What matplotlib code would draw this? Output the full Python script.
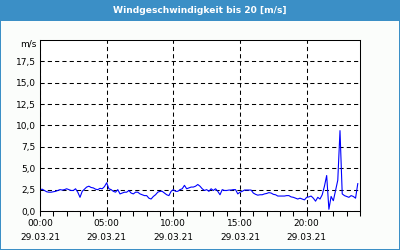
import matplotlib
matplotlib.use("Agg")
import matplotlib.pyplot as plt
from matplotlib.patches import Rectangle
import numpy as np

titel = "Windgeschwindigkeit bis 20 [m/s]"
datum = "29.03.21"
x_ticks_h = [0, 5, 10, 15, 20]
y_ticks = [0, 2.5, 5, 7.5, 10, 12.5, 15, 17.5]

# 10-Minuten-Werte in m/s, 00:00 .. 23:50
wind = [
    2.5, 2.55, 2.4, 2.25, 2.2, 2.2,      # 00
    2.25, 2.3, 2.4, 2.5, 2.45, 2.5,      # 01
    2.6, 2.5, 2.4, 2.4, 2.6, 2.2,        # 02
    1.6, 2.3, 2.55, 2.8, 2.9, 2.75,      # 03
    2.7, 2.55, 2.5, 2.65, 2.6, 2.85,     # 04
    3.3, 2.6, 2.5, 2.3, 2.2, 2.5,        # 05
    2.0, 2.1, 2.2, 2.2, 2.4, 2.1,        # 06
    2.0, 2.2, 2.2, 2.0, 1.9, 1.8,        # 07
    1.8, 1.5, 1.4, 1.7, 1.9, 2.2,        # 08
    2.3, 2.3, 2.1, 1.9, 1.8, 2.3,        # 09
    2.5, 2.3, 2.3, 2.5, 2.6, 3.0,        # 10
    2.6, 2.7, 2.8, 2.8, 2.9, 3.1,        # 11
    2.9, 2.6, 2.4, 2.5, 2.3, 2.6,        # 12
    2.4, 2.6, 2.3, 1.9, 2.5, 2.4,        # 13
    2.4, 2.45, 2.45, 2.5, 2.5, 2.0,      # 14
    2.2, 2.3, 2.45, 2.45, 2.45, 2.45,    # 15
    2.1, 1.95, 1.85, 1.9, 1.9, 2.0,      # 16
    2.05, 2.15, 2.1, 1.95, 1.9, 1.75,    # 17
    1.75, 1.75, 1.75, 1.8, 1.8, 1.65,    # 18
    1.6, 1.5, 1.4, 1.5, 1.4, 1.3,        # 19
    1.6, 1.65, 1.75, 1.5, 1.15, 1.6,     # 20
    1.4, 1.9, 2.9, 4.15, 0.2, 1.7,       # 21
    1.2, 2.4, 3.6, 9.4, 2.0, 1.8,        # 22
    1.7, 1.6, 1.8, 1.7, 1.5, 3.2,        # 23
]

blau = "#3b8fc6"
stunden = np.arange(len(wind)) / 6.0

fig = plt.figure(figsize=(4, 2.5), dpi=100, facecolor="#fbfdfb")
ax = fig.add_axes([0.1, 0.156, 0.8, 0.684])

# Titelbalken + Rahmen (2px breit, halb abgeschnitten -> 1px sichtbar)
fig.add_artist(Rectangle((0, 1 - 21 / 250), 1, 21 / 250, transform=fig.transFigure,
                         facecolor=blau, edgecolor="none"))
fig.add_artist(Rectangle((0, 0), 1, 1, transform=fig.transFigure, facecolor="none",
                         edgecolor=blau, linewidth=1.44))
fig.text(0.5, 1 - 10.5 / 250, titel, color="white", fontsize=6.6, fontweight="bold",
         ha="center", va="center")

ax.plot(stunden, wind, color="#0000ff", linewidth=0.8)

ax.set_xlim(0, 24)
ax.set_ylim(0, 20)
ax.set_xticks(x_ticks_h)
ax.set_xticklabels([f"{h:02d}:00\n{datum}" for h in x_ticks_h], linespacing=1.6)
ax.set_xticks(range(0, 25), minor=True)
ax.set_yticks(y_ticks)
ax.set_yticklabels([f"{v:.1f}".replace(".", ",") for v in y_ticks])

ax.tick_params(axis="x", which="both", direction="out", length=3.5, width=0.75,
               labelsize=6.5, pad=2.5)
ax.tick_params(axis="y", length=0, labelsize=6.5, pad=3)
ax.grid(True, which="major", color="black", linestyle=(0, (4, 3)), linewidth=0.75)
for s in ax.spines.values():
    s.set_linewidth(0.75)
ax.set_facecolor("white")

ax.text(-0.01, 1.0, "m/s", transform=ax.transAxes, ha="right", va="top", fontsize=6.5)

fig.savefig("out.png", dpi=100, facecolor=fig.get_facecolor())
